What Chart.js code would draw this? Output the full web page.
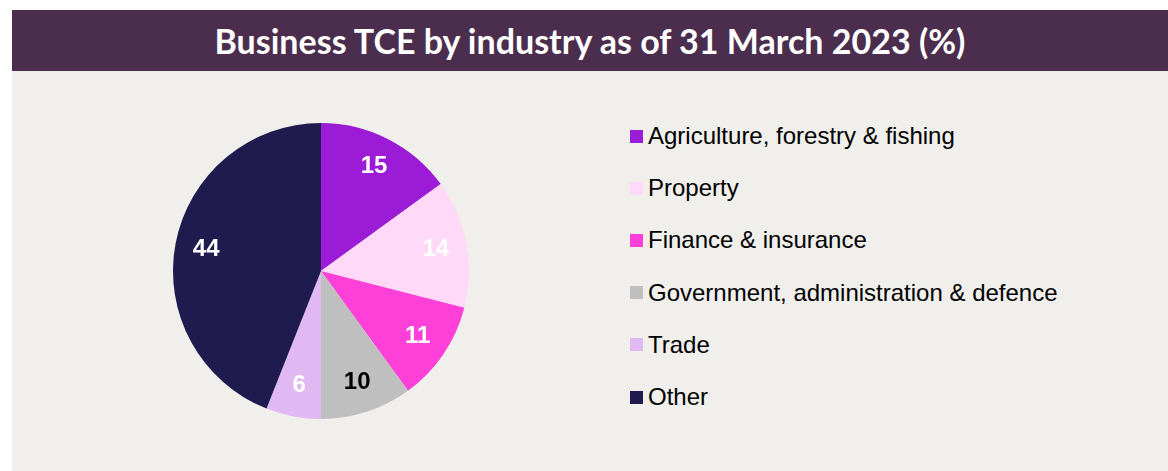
<!DOCTYPE html>
<html>
<head>
<meta charset="utf-8">
<script src="https://cdn.jsdelivr.net/npm/chart.js@4"></script>
<style>
  html, body { margin: 0; padding: 0; background: #ffffff; }
  #wrap { position: relative; width: 1168px; height: 471px; overflow: hidden; }
  #titleBar {
    position: absolute; left: 12px; top: 10px; width: 1156px; height: 61px;
    background: #4b2d4e; color: #ffffff;
    font: bold 34px Lato, "Open Sans", sans-serif;
    display: flex; align-items: center; justify-content: center;
  }
  #body { position: absolute; left: 12px; top: 71px; width: 1156px; height: 400px; background: #f0efeb; }
  #pieBox { position: absolute; left: 171px; top: 121px; width: 300px; height: 300px; }
  #legend { position: absolute; left: 630px; top: 110px; font: 24px "Liberation Sans", Arial, sans-serif; color: #000; }
  .row { height: 52.2px; display: flex; align-items: center; white-space: nowrap; }
  .sw { width: 13px; height: 13px; margin-right: 5px; flex: none; }
</style>
</head>
<body>
<div id="wrap">
  <div id="titleBar">Business TCE by industry as of 31 March 2023 (%)</div>
  <div id="body"></div>
  <div id="pieBox"><canvas id="pie"></canvas></div>
  <div id="legend"></div>
</div>
<script>
// data
const industries = ['Agriculture, forestry & fishing', 'Property', 'Finance & insurance',
  'Government, administration & defence', 'Trade', 'Other'];
const shares = [15, 14, 11, 10, 6, 44];
const sliceColors = ['#9b1bd6', '#ffd9f7', '#ff40d8', '#bfbfbf', '#e0b9f2', '#1f1b4e'];
const labelColors = ['#ffffff', '#ffffff', '#ffffff', '#000000', '#ffffff', '#ffffff'];

// legend as html
const legend = document.getElementById('legend');
industries.forEach((name, i) => {
  const row = document.createElement('div');
  row.className = 'row';
  row.innerHTML = `<span class="sw" style="background:${sliceColors[i]}"></span><span>${name}</span>`;
  legend.appendChild(row);
});

// value labels inside the slices
const sliceLabels = {
  id: 'sliceLabels',
  afterDatasetsDraw(chart) {
    const ctx = chart.ctx;
    const meta = chart.getDatasetMeta(0);
    ctx.save();
    ctx.font = 'bold 24px "Liberation Sans", Arial, sans-serif';
    ctx.textAlign = 'center';
    ctx.textBaseline = 'middle';
    meta.data.forEach((arc, i) => {
      const p = arc.getProps(['x', 'y', 'startAngle', 'endAngle', 'outerRadius'], true);
      const mid = (p.startAngle + p.endAngle) / 2;
      const r = p.outerRadius * 0.79;
      ctx.fillStyle = labelColors[i];
      ctx.fillText(String(shares[i]), p.x + Math.cos(mid) * r, p.y + Math.sin(mid) * r);
    });
    ctx.restore();
  }
};

new Chart(document.getElementById('pie'), {
  type: 'pie',
  data: {
    labels: industries,
    datasets: [{ data: shares, backgroundColor: sliceColors, borderWidth: 0 }]
  },
  options: {
    responsive: true, maintainAspectRatio: false, animation: false,
    layout: { padding: 2 },
    plugins: { legend: { display: false }, tooltip: { enabled: false } }
  },
  plugins: [sliceLabels]
});
</script>
</body>
</html>
